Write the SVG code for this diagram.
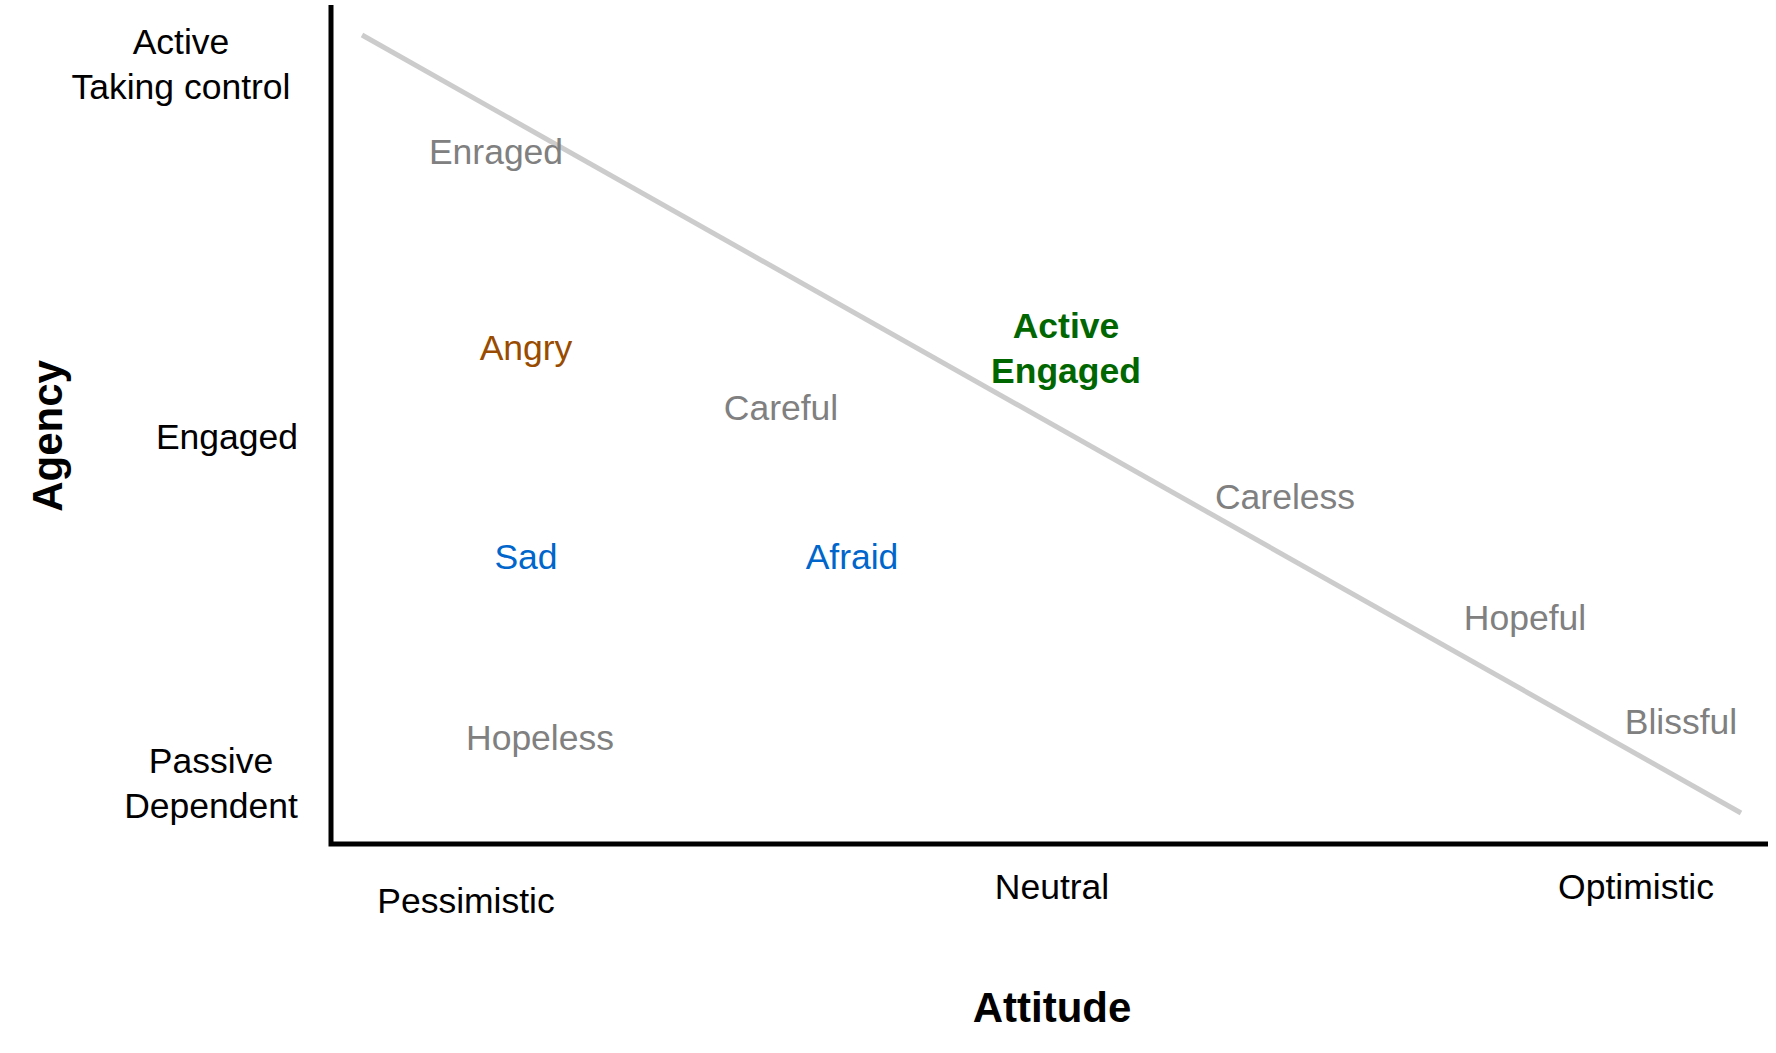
<svg xmlns="http://www.w3.org/2000/svg" width="1776" height="1053" viewBox="0 0 1776 1053">
  <style>
    text { font-family: "Liberation Sans", Arial, Helvetica, sans-serif; font-size: 35.5px; text-anchor: middle; }
    .axis-label { fill: #000000; }
    .axis-title { fill: #000000; font-weight: bold; font-size: 42px; }
    .gray { fill: #808080; }
    .green { fill: #006600; font-weight: bold; }
    .brown { fill: #994c00; }
    .blue { fill: #0066cc; }
    .axis { stroke: #000000; stroke-width: 5; fill: none; }
    .trend { stroke: #cccccc; stroke-width: 5; fill: none; }
  </style>
  <rect width="1776" height="1053" fill="#ffffff"/>

  <g id="connectors">
    <line class="trend" x1="362" y1="35" x2="1741" y2="813"/>
    <polyline class="axis" points="331,5 331,844 1768,844"/>
  </g>

  <g id="y-labels">
    <g id="label-active"><text class="axis-label" x="181" y="54">Active</text><text class="axis-label" x="181" y="99">Taking control</text></g>
    <g id="label-engaged"><text class="axis-label" x="227" y="449">Engaged</text></g>
    <g id="label-passive"><text class="axis-label" x="211" y="773">Passive</text><text class="axis-label" x="211" y="818">Dependent</text></g>
    <g id="title-agency"><text class="axis-title" transform="translate(62,436) rotate(-90)">Agency</text></g>
  </g>

  <g id="x-labels">
    <g id="label-pessimistic"><text class="axis-label" x="466" y="913">Pessimistic</text></g>
    <g id="label-neutral"><text class="axis-label" x="1052" y="899">Neutral</text></g>
    <g id="label-optimistic"><text class="axis-label" x="1636" y="899">Optimistic</text></g>
    <g id="title-attitude"><text class="axis-title" x="1052" y="1022">Attitude</text></g>
  </g>

  <g id="node-enraged"><text class="gray" x="496" y="164">Enraged</text></g>
  <g id="node-angry"><text class="brown" x="526" y="360">Angry</text></g>
  <g id="node-careful"><text class="gray" x="781" y="420">Careful</text></g>
  <g id="node-active-engaged"><text class="green" x="1066" y="338">Active</text><text class="green" x="1066" y="383">Engaged</text></g>
  <g id="node-careless"><text class="gray" x="1285" y="509">Careless</text></g>
  <g id="node-sad"><text class="blue" x="526" y="569">Sad</text></g>
  <g id="node-afraid"><text class="blue" x="852" y="569">Afraid</text></g>
  <g id="node-hopeful"><text class="gray" x="1525" y="630">Hopeful</text></g>
  <g id="node-blissful"><text class="gray" x="1681" y="734">Blissful</text></g>
  <g id="node-hopeless"><text class="gray" x="540" y="750">Hopeless</text></g>
</svg>
